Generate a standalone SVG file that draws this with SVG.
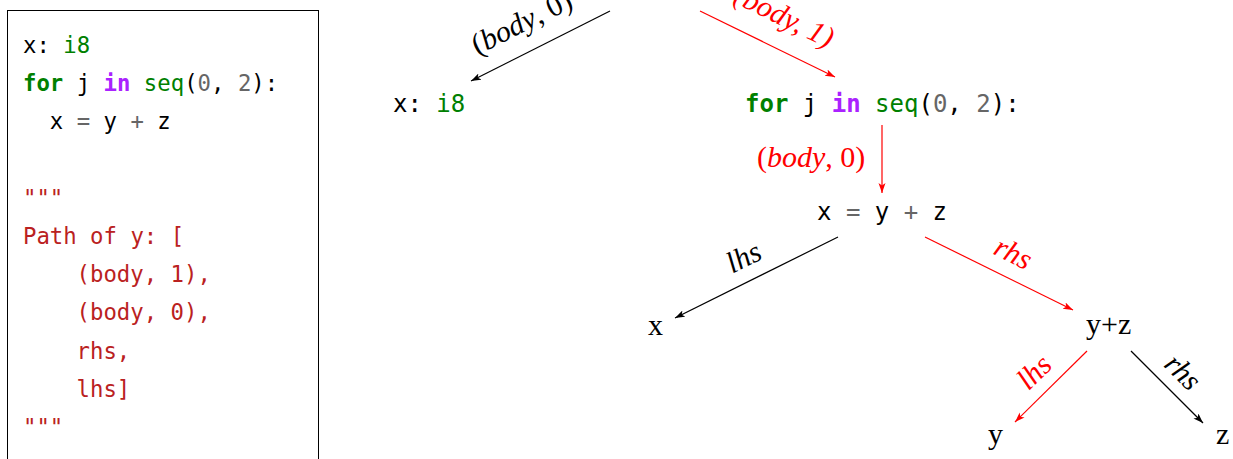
<svg xmlns="http://www.w3.org/2000/svg" width="1233" height="459" viewBox="0 0 1233 459">
<style>
.code{font-family:"DejaVu Sans Mono","Liberation Mono",monospace;font-size:22.3px;fill:#000}
.rcode{font-family:"DejaVu Sans Mono","Liberation Mono",monospace;font-size:24px;fill:#000}
.kw{fill:#008000;font-weight:bold}
.kwp{fill:#AA22FF;font-weight:bold}
.bi{fill:#008000}
.num{fill:#666666}
.op{fill:#666666}
.str{fill:#BA2121}
.node{font-family:"Liberation Serif","Times New Roman",serif;font-size:30px;fill:#000}
.lab{font-family:"Liberation Serif","Times New Roman",serif;font-size:30px;font-style:italic}
.up{font-style:normal}
.blk{fill:#000}
.red{fill:#FF0000}
.eb{stroke:#000;stroke-width:1.2;fill:none;marker-end:url(#ab)}
.er{stroke:#FF0000;stroke-width:1.2;fill:none;marker-end:url(#ar)}
</style>
<defs>
<marker id="ab" markerUnits="userSpaceOnUse" markerWidth="11" markerHeight="8" refX="10" refY="3.5" orient="auto"><path d="M0,0 L10,3.5 L0,7 L2.5,3.5 z" fill="#000"/></marker>
<marker id="ar" markerUnits="userSpaceOnUse" markerWidth="11" markerHeight="8" refX="10" refY="3.5" orient="auto"><path d="M0,0 L10,3.5 L0,7 L2.5,3.5 z" fill="#FF0000"/></marker>
</defs>
<rect width="1233" height="459" fill="#fff"/>
<g id="code-panel">
<rect x="7.5" y="10.5" width="311" height="470" fill="#fff" stroke="#000" stroke-width="1"/>
<text class="code" x="23" y="53" xml:space="preserve">x: <tspan class="bi">i8</tspan></text>
<text class="code" x="23" y="91.2" xml:space="preserve"><tspan class="kw">for</tspan> j <tspan class="kwp">in</tspan> <tspan class="bi">seq</tspan>(<tspan class="num">0</tspan>, <tspan class="num">2</tspan>):</text>
<text class="code" x="49.8" y="129.4" xml:space="preserve">x <tspan class="op">=</tspan> y <tspan class="op">+</tspan> z</text>
<text class="code str" x="23" y="205.8">"""</text>
<text class="code str" x="23" y="244" xml:space="preserve">Path of y: [</text>
<text class="code str" x="76.6" y="282.2" xml:space="preserve">(body, 1),</text>
<text class="code str" x="76.6" y="320.4" xml:space="preserve">(body, 0),</text>
<text class="code str" x="76.6" y="358.6">rhs,</text>
<text class="code str" x="76.6" y="396.8">lhs]</text>
<text class="code str" x="23" y="435">"""</text>
</g>
<g id="connectors">
<line class="eb" x1="610" y1="11" x2="471" y2="81"/>
<line class="er" x1="700" y1="11" x2="835" y2="77"/>
<line class="er" x1="882" y1="125" x2="882" y2="193"/>
<line class="eb" x1="838" y1="237" x2="675" y2="318"/>
<line class="er" x1="925" y1="237" x2="1073" y2="310"/>
<line class="er" x1="1087" y1="351" x2="1015" y2="422"/>
<line class="eb" x1="1131" y1="351" x2="1203" y2="423"/>
<text class="lab blk" text-anchor="middle" transform="translate(526,31) rotate(-26.7)"><tspan class="up">(</tspan>body<tspan class="up">, 0)</tspan></text>
<text class="lab red" text-anchor="middle" transform="translate(780,25) rotate(26)">(body, 1)</text>
<text class="lab red" x="757" y="167"><tspan class="up">(</tspan>body<tspan class="up">, 0)</tspan></text>
<text class="lab blk" text-anchor="middle" transform="translate(748,266) rotate(-26.4)">lhs</text>
<text class="lab red" text-anchor="middle" transform="translate(1009,262) rotate(26.3)">rhs</text>
<text class="lab red" text-anchor="middle" transform="translate(1041,379) rotate(-44.6)">lhs</text>
<text class="lab blk" text-anchor="middle" transform="translate(1176,379) rotate(45)">rhs</text>
</g>
<g id="node-decl"><text class="rcode" x="393" y="112" xml:space="preserve">x: <tspan class="bi">i8</tspan></text></g>
<g id="node-for"><text class="rcode" x="745" y="112" xml:space="preserve"><tspan class="kw">for</tspan> j <tspan class="kwp">in</tspan> <tspan class="bi">seq</tspan>(<tspan class="num">0</tspan>, <tspan class="num">2</tspan>):</text></g>
<g id="node-assign"><text class="rcode" x="817" y="220" xml:space="preserve">x <tspan class="op">=</tspan> y <tspan class="op">+</tspan> z</text></g>
<g id="node-x"><text class="node" x="648" y="335">x</text></g>
<g id="node-yz"><text class="node" x="1086" y="334">y+z</text></g>
<g id="node-y"><text class="node" x="988" y="444">y</text></g>
<g id="node-z"><text class="node" x="1216" y="444">z</text></g>
</svg>
